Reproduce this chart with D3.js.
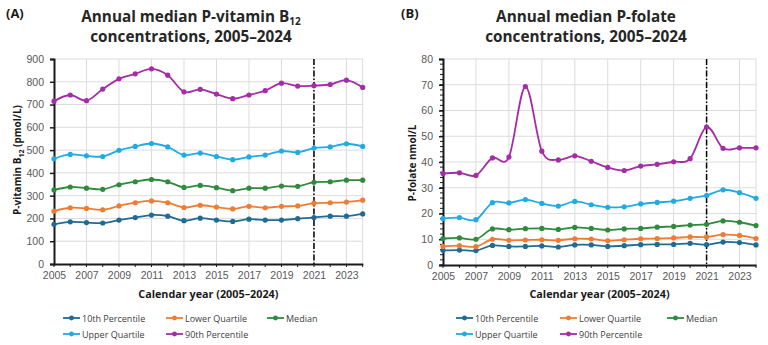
<!DOCTYPE html>
<html><head><meta charset="utf-8">
<script src="https://cdn.jsdelivr.net/npm/d3@7"></script>
<style>
html,body{margin:0;padding:0;background:#fff;}
svg{display:block;font-family:"Open Sans","Noto Sans",sans-serif;}
</style></head>
<body>
<svg id="chart" width="768" height="345"></svg>
<script>
const years = d3.range(2005, 2025);
const seriesNames = ["10th Percentile","Lower Quartile","Median","Upper Quartile","90th Percentile"];
const seriesColors = ["#1f6b93","#ee7d33","#2e8a3c","#1fabe4","#a42ca6"];

// Panel A: P-vitamin B12 (pmol/L)
const b12_p10    = [174,185,182,180,193,204,215,210,190,201,193,187,197,193,193,199,204,210,210,220];
const b12_q1     = [232,247,244,238,255,269,277,269,248,258,250,242,253,247,253,255,267,269,272,280];
const b12_median = [325,338,333,328,348,361,371,361,336,345,335,322,333,333,342,341,359,361,368,368];
const b12_q3     = [462,481,475,472,499,516,529,514,478,487,472,458,470,478,496,490,509,514,528,516];
const b12_p90    = [715,742,717,768,813,835,857,829,756,767,746,726,742,761,794,781,783,788,807,775];
const b12_ticks  = [0,100,200,300,400,500,600,700,800,900];

// Panel B: P-folate (nmol/L)
const fol_p10    = [5.7,5.8,5.6,7.6,7.2,7.2,7.4,7.0,7.8,7.8,7.2,7.5,7.9,8.0,8.0,8.4,7.9,8.9,8.7,7.8];
const fol_q1     = [7.2,7.5,7.1,10.0,9.6,9.7,9.8,9.6,10.2,10.1,9.4,9.8,10.2,10.3,10.5,10.9,10.9,11.8,11.5,10.3];
const fol_median = [10.3,10.5,10.0,14.0,13.7,14.1,14.2,13.8,14.6,14.2,13.6,14.0,14.2,14.7,15.0,15.5,15.8,17.1,16.6,15.3];
const fol_q3     = [18.0,18.4,17.6,24.2,24.1,25.4,23.9,22.9,24.7,23.4,22.4,22.6,23.7,24.3,24.8,25.9,27.0,29.2,28.1,25.9];
const fol_p90    = [35.5,35.8,34.8,41.6,41.9,69.3,44.2,40.8,42.4,40.3,37.9,36.7,38.4,39.1,40.1,41.3,53.6,45.3,45.5,45.5];
const fol_ticks  = [0,10,20,30,40,50,60,70,80];

const xTickYears = [2005,2007,2009,2011,2013,2015,2017,2019,2021,2023];
const markerYear = 2021;

const svg = d3.select("#chart");

function panel(cfg){
  const g = svg.append("g");
  const x = d3.scaleLinear().domain([2005,2024]).range([cfg.left, cfg.right]);
  const y = d3.scaleLinear().domain([0, cfg.max]).range([cfg.bottom, cfg.top]);

  // horizontal gridlines
  g.append("g").selectAll("line").data(cfg.ticks.slice(1)).join("line")
    .attr("x1", cfg.left).attr("x2", cfg.right)
    .attr("y1", d=>y(d)).attr("y2", d=>y(d))
    .attr("stroke","#dcdcdc").attr("stroke-width",1);
  // vertical gridlines
  g.append("g").selectAll("line").data(xTickYears.slice(1).concat([2024])).join("line")
    .attr("x1", d=>x(d)).attr("x2", d=>x(d))
    .attr("y1", cfg.top).attr("y2", cfg.bottom)
    .attr("stroke","#dcdcdc").attr("stroke-width",1);

  // y axis
  const yAxis = g.append("g").attr("transform",`translate(${cfg.left},0)`)
    .call(d3.axisLeft(y).tickValues(cfg.ticks).tickSize(4).tickPadding(6));
  yAxis.select(".domain").attr("stroke","#1a1a1a").attr("stroke-width",2);
  yAxis.selectAll(".tick line").attr("stroke","#1a1a1a").attr("stroke-width",1.5);
  yAxis.selectAll("text").attr("font-size",10.5).attr("fill","#595959");
  if (cfg.minor) {
    g.append("g").selectAll("line").data(d3.range(0, cfg.max, cfg.minor)).join("line")
      .attr("x1", cfg.left-3).attr("x2", cfg.left)
      .attr("y1", d=>y(d)).attr("y2", d=>y(d))
      .attr("stroke","#1a1a1a").attr("stroke-width",1);
  }

  // x axis
  const xAxis = g.append("g").attr("transform",`translate(0,${cfg.bottom})`)
    .call(d3.axisBottom(x).tickValues(xTickYears).tickFormat(d3.format("d")).tickSize(0).tickPadding(8));
  xAxis.select(".domain").attr("stroke","#1a1a1a").attr("stroke-width",2);
  xAxis.selectAll("text").attr("font-size",10.5).attr("fill","#595959");
  g.append("g").selectAll("line").data(years).join("line")
    .attr("x1", d=>x(d)).attr("x2", d=>x(d))
    .attr("y1", cfg.bottom).attr("y2", cfg.bottom+3)
    .attr("stroke","#1a1a1a").attr("stroke-width",1);

  // dash-dot vertical marker
  g.append("line")
    .attr("x1", x(markerYear)).attr("x2", x(markerYear))
    .attr("y1", y(cfg.max)).attr("y2", cfg.bottom)
    .attr("stroke","#000").attr("stroke-width",1.5)
    .attr("stroke-dasharray","6,2,1.5,2");

  // series
  const line = d3.line().x((d,i)=>x(years[i])).y(d=>y(d)).curve(d3.curveCardinal.tension(0));
  cfg.series.forEach((vals, si) => {
    g.append("path").datum(vals).attr("d", line)
      .attr("fill","none").attr("stroke", seriesColors[si]).attr("stroke-width",1.8);
    g.append("g").selectAll("circle").data(vals).join("circle")
      .attr("cx",(d,i)=>x(years[i])).attr("cy", d=>y(d)).attr("r",2.6)
      .attr("fill", seriesColors[si]);
  });

  // panel label
  g.append("text").attr("x", cfg.labelX).attr("y", 18).text(cfg.label)
    .attr("font-size",13).attr("font-weight","bold").attr("fill","#1a1a1a");

  // title
  const t = g.append("text").attr("text-anchor","middle")
    .attr("font-size",15.3).attr("font-weight","bold").attr("fill","#262626");
  const l1 = t.append("tspan").attr("x", cfg.titleX).attr("y", 22);
  l1.append("tspan").text(cfg.title1);
  if (cfg.sub) l1.append("tspan").text(cfg.sub).attr("font-size",10).attr("dy",3);
  t.append("tspan").attr("x", cfg.titleX).attr("y", 42).text(cfg.title2);

  // y axis title
  const yt = g.append("text").attr("transform",`translate(${cfg.yTitleX},${cfg.yTitleY}) rotate(-90)`)
    .attr("text-anchor","middle").attr("font-size",10).attr("font-weight","bold").attr("fill","#1a1a1a");
  yt.append("tspan").text(cfg.yTitle1);
  if (cfg.yTitleSub) {
    yt.append("tspan").text(cfg.yTitleSub).attr("font-size",7).attr("dy",2.5);
    yt.append("tspan").text(cfg.yTitle2).attr("dy",-2.5);
  }

  // x axis title
  g.append("text").attr("x", (cfg.left+cfg.right)/2).attr("y", 298)
    .attr("text-anchor","middle").attr("font-size",10.8).attr("font-weight","bold").attr("fill","#1a1a1a")
    .text("Calendar year (2005–2024)");

  // legend
  const pos = [[0,0],[1,0],[2,0],[0,1],[1,1]];
  seriesNames.forEach((name, si) => {
    const lx = cfg.legX[pos[si][0]], ly = 318 + pos[si][1]*16;
    const lg = g.append("g");
    lg.append("line").attr("x1", lx).attr("x2", lx+17).attr("y1", ly).attr("y2", ly)
      .attr("stroke", seriesColors[si]).attr("stroke-width",1.8);
    lg.append("circle").attr("cx", lx+8.5).attr("cy", ly).attr("r",2.4).attr("fill", seriesColors[si]);
    lg.append("text").attr("x", lx+19).attr("y", ly+3.5).text(name)
      .attr("font-size",9).attr("fill","#404040");
  });
}

panel({left:54, right:362.7, top:59, bottom:264, max:900, ticks:b12_ticks,
  series:[b12_p10,b12_q1,b12_median,b12_q3,b12_p90],
  label:"(A)", labelX:6, title1:"Annual median P-vitamin B", sub:"12", title2:"concentrations, 2005–2024",
  titleX:191, yTitle1:"P-vitamin B", yTitleSub:"12", yTitle2:" (pmol/L)", yTitleX:21, yTitleY:160,
  legX:[63,166,267]});

panel({left:443, right:756, top:59, bottom:265, max:80, ticks:fol_ticks, minor:2,
  series:[fol_p10,fol_q1,fol_median,fol_q3,fol_p90],
  label:"(B)", labelX:401, title1:"Annual median P-folate", title2:"concentrations, 2005–2024",
  titleX:586, yTitle1:"P-folate nmol/L", yTitleX:416, yTitleY:163,
  legX:[456,560,667]});
</script>
</body></html>
